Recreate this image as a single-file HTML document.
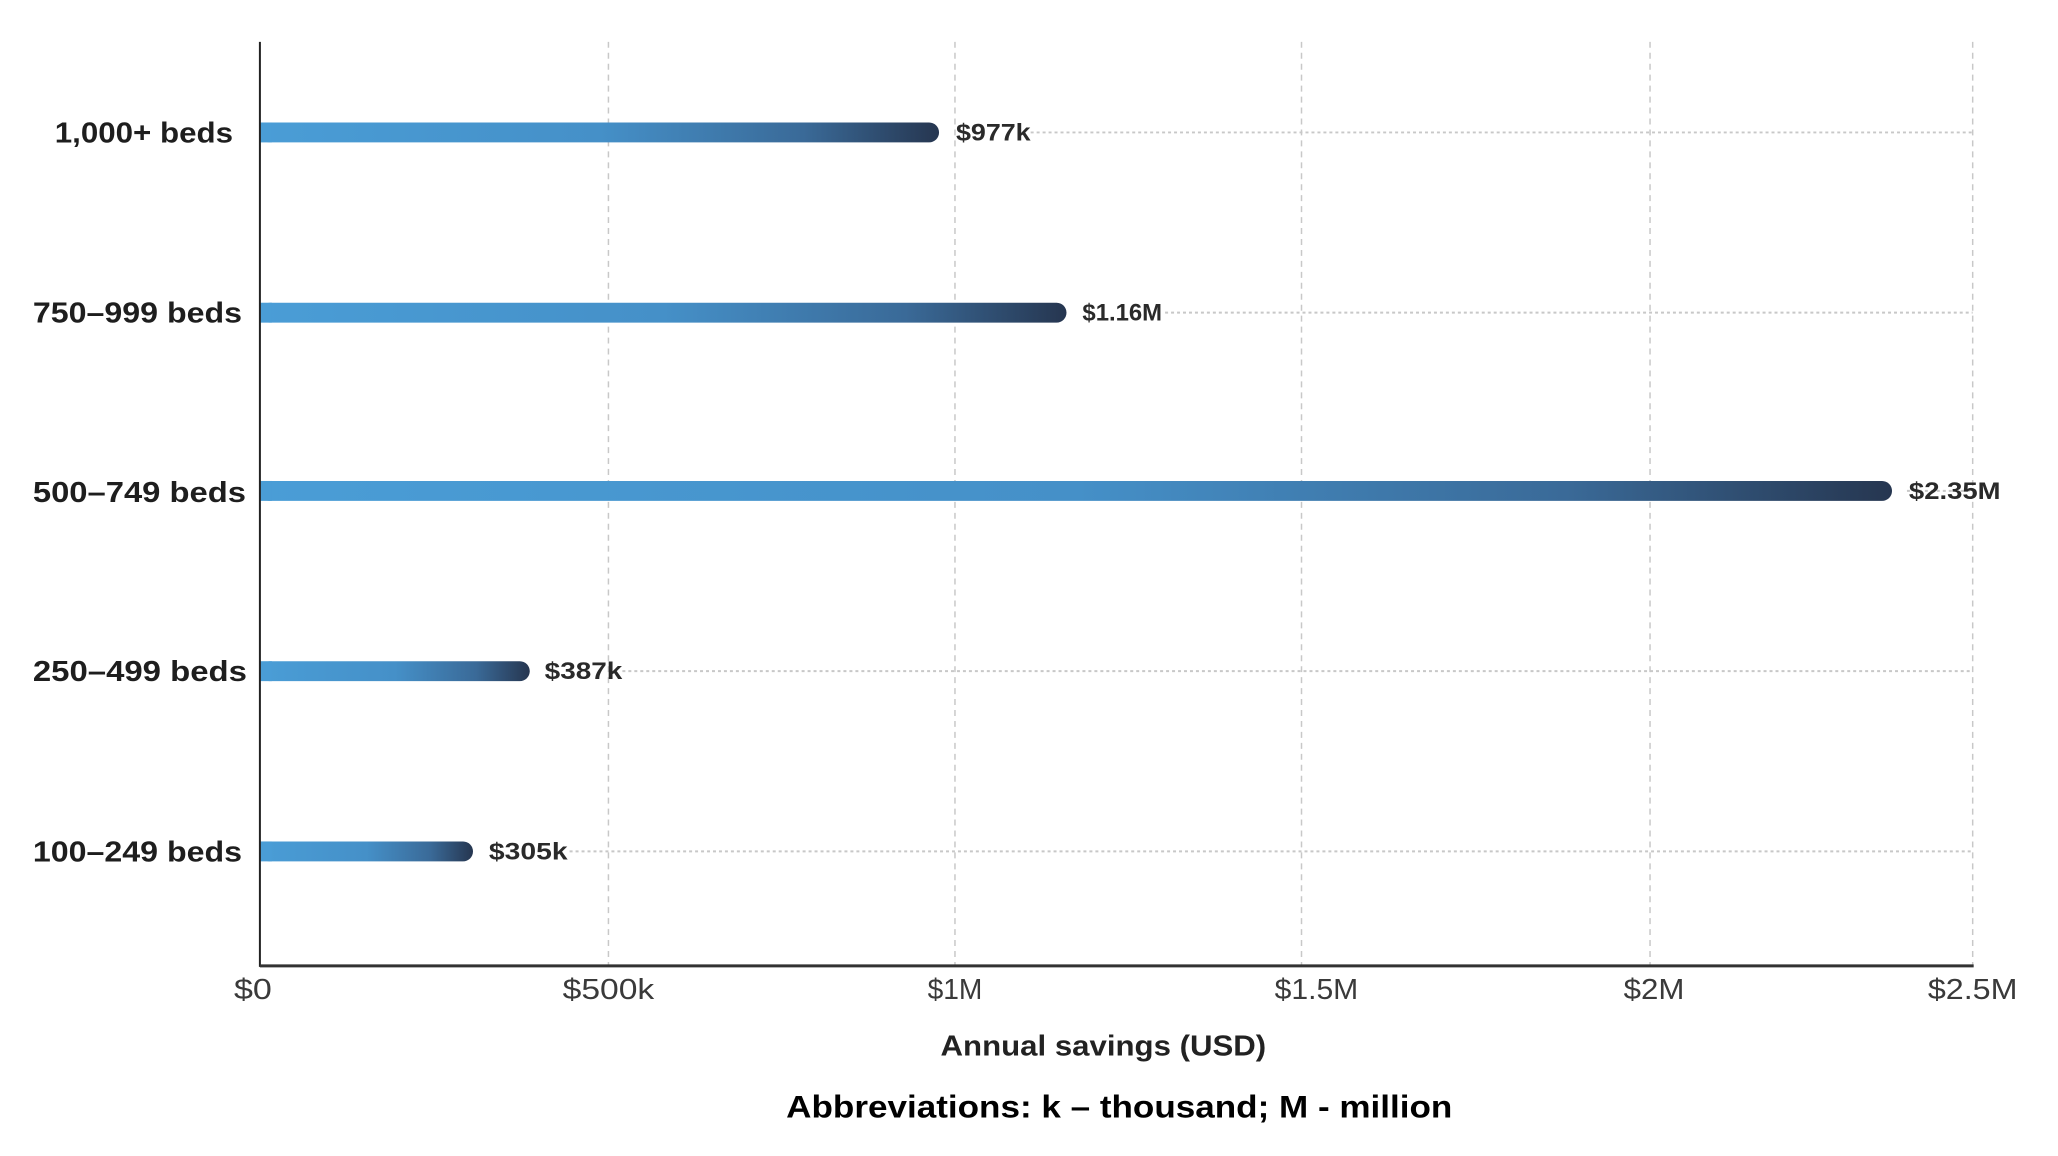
<!DOCTYPE html>
<html><head><style>html,body{margin:0;padding:0;background:#fff}svg{display:block}</style></head>
<body>
<svg width="2058" height="1156" viewBox="0 0 2058 1156" xmlns="http://www.w3.org/2000/svg" font-family="Liberation Sans, sans-serif">
<defs>
<linearGradient id="g" x1="0" y1="0" x2="1" y2="0">
<stop offset="0" stop-color="#4a9dd6"/>
<stop offset="0.5" stop-color="#4590c8"/>
<stop offset="0.8" stop-color="#3a6a98"/>
<stop offset="1" stop-color="#263650"/>
</linearGradient>
</defs>
<g transform="scale(0.9958)">
<g stroke="#c8c8c8" stroke-width="1.5" stroke-dasharray="6,5">
<line x1="611" y1="42" x2="611" y2="970"/>
<line x1="959" y1="42" x2="959" y2="970"/>
<line x1="1307" y1="42" x2="1307" y2="970"/>
<line x1="1657" y1="42" x2="1657" y2="970"/>
<line x1="1981" y1="42" x2="1981" y2="970"/>
</g>
<g stroke="#c8c8c8" stroke-width="2" stroke-dasharray="3,3">
<line x1="1035" y1="133" x2="1981" y2="133"/>
<line x1="1170" y1="314" x2="1981" y2="314"/>
<line x1="1915" y1="493" x2="1981" y2="493" />
<line x1="625" y1="674" x2="1981" y2="674"/>
<line x1="572" y1="855" x2="1981" y2="855"/>
</g>
<g fill="url(#g)">
<rect x="261" y="123" width="682" height="20" rx="10"/>
<rect x="261" y="304" width="810" height="20" rx="10"/>
<rect x="261" y="483" width="1639" height="20" rx="10"/>
<rect x="261" y="664" width="271" height="20" rx="10"/>
<rect x="261" y="845" width="214" height="20" rx="10"/>
</g>
<rect x="261" y="123" width="12" height="20" fill="#4a9dd6"/>
<rect x="261" y="304" width="12" height="20" fill="#4a9dd6"/>
<rect x="261" y="483" width="12" height="20" fill="#4a9dd6"/>
<rect x="261" y="664" width="12" height="20" fill="#4a9dd6"/>
<rect x="261" y="845" width="12" height="20" fill="#4a9dd6"/>
<line x1="261" y1="42" x2="261" y2="971" stroke="#222" stroke-width="2"/>
<line x1="261" y1="970" x2="1982" y2="970" stroke="#333" stroke-width="3"/>
<g font-weight="bold" font-size="29" fill="#1e1e1e">
<text x="55" y="143" textLength="179" lengthAdjust="spacingAndGlyphs">1,000+ beds</text>
<text x="33" y="324" textLength="210" lengthAdjust="spacingAndGlyphs">750–999 beds</text>
<text x="33" y="504" textLength="214" lengthAdjust="spacingAndGlyphs">500–749 beds</text>
<text x="33" y="684" textLength="215" lengthAdjust="spacingAndGlyphs">250–499 beds</text>
<text x="33" y="865" textLength="210" lengthAdjust="spacingAndGlyphs">100–249 beds</text>
</g>
<g font-weight="bold" font-size="24" fill="#2a2a2a">
<text x="960" y="141" textLength="75" lengthAdjust="spacingAndGlyphs">$977k</text>
<text x="1087" y="322" textLength="80" lengthAdjust="spacingAndGlyphs">$1.16M</text>
<text x="1917" y="501" textLength="92" lengthAdjust="spacingAndGlyphs">$2.35M</text>
<text x="547" y="682" textLength="78" lengthAdjust="spacingAndGlyphs">$387k</text>
<text x="491" y="863" textLength="79" lengthAdjust="spacingAndGlyphs">$305k</text>
</g>
<g font-size="29" fill="#3a3a3a" text-anchor="middle">
<text x="254" y="1003" textLength="38" lengthAdjust="spacingAndGlyphs">$0</text>
<text x="611" y="1003" textLength="92" lengthAdjust="spacingAndGlyphs">$500k</text>
<text x="959" y="1003" textLength="55" lengthAdjust="spacingAndGlyphs">$1M</text>
<text x="1322" y="1003" textLength="84" lengthAdjust="spacingAndGlyphs">$1.5M</text>
<text x="1661" y="1003" textLength="61" lengthAdjust="spacingAndGlyphs">$2M</text>
<text x="1981" y="1003" textLength="90" lengthAdjust="spacingAndGlyphs">$2.5M</text>
</g>
<text x="1108" y="1060" font-weight="bold" font-size="29" fill="#222" text-anchor="middle" textLength="327" lengthAdjust="spacingAndGlyphs">Annual savings (USD)</text>
<text x="1124" y="1122" font-weight="bold" font-size="32" fill="#000" text-anchor="middle" textLength="669" lengthAdjust="spacingAndGlyphs">Abbreviations: k – thousand; M - million</text>
</g>
</svg>
</body></html>
